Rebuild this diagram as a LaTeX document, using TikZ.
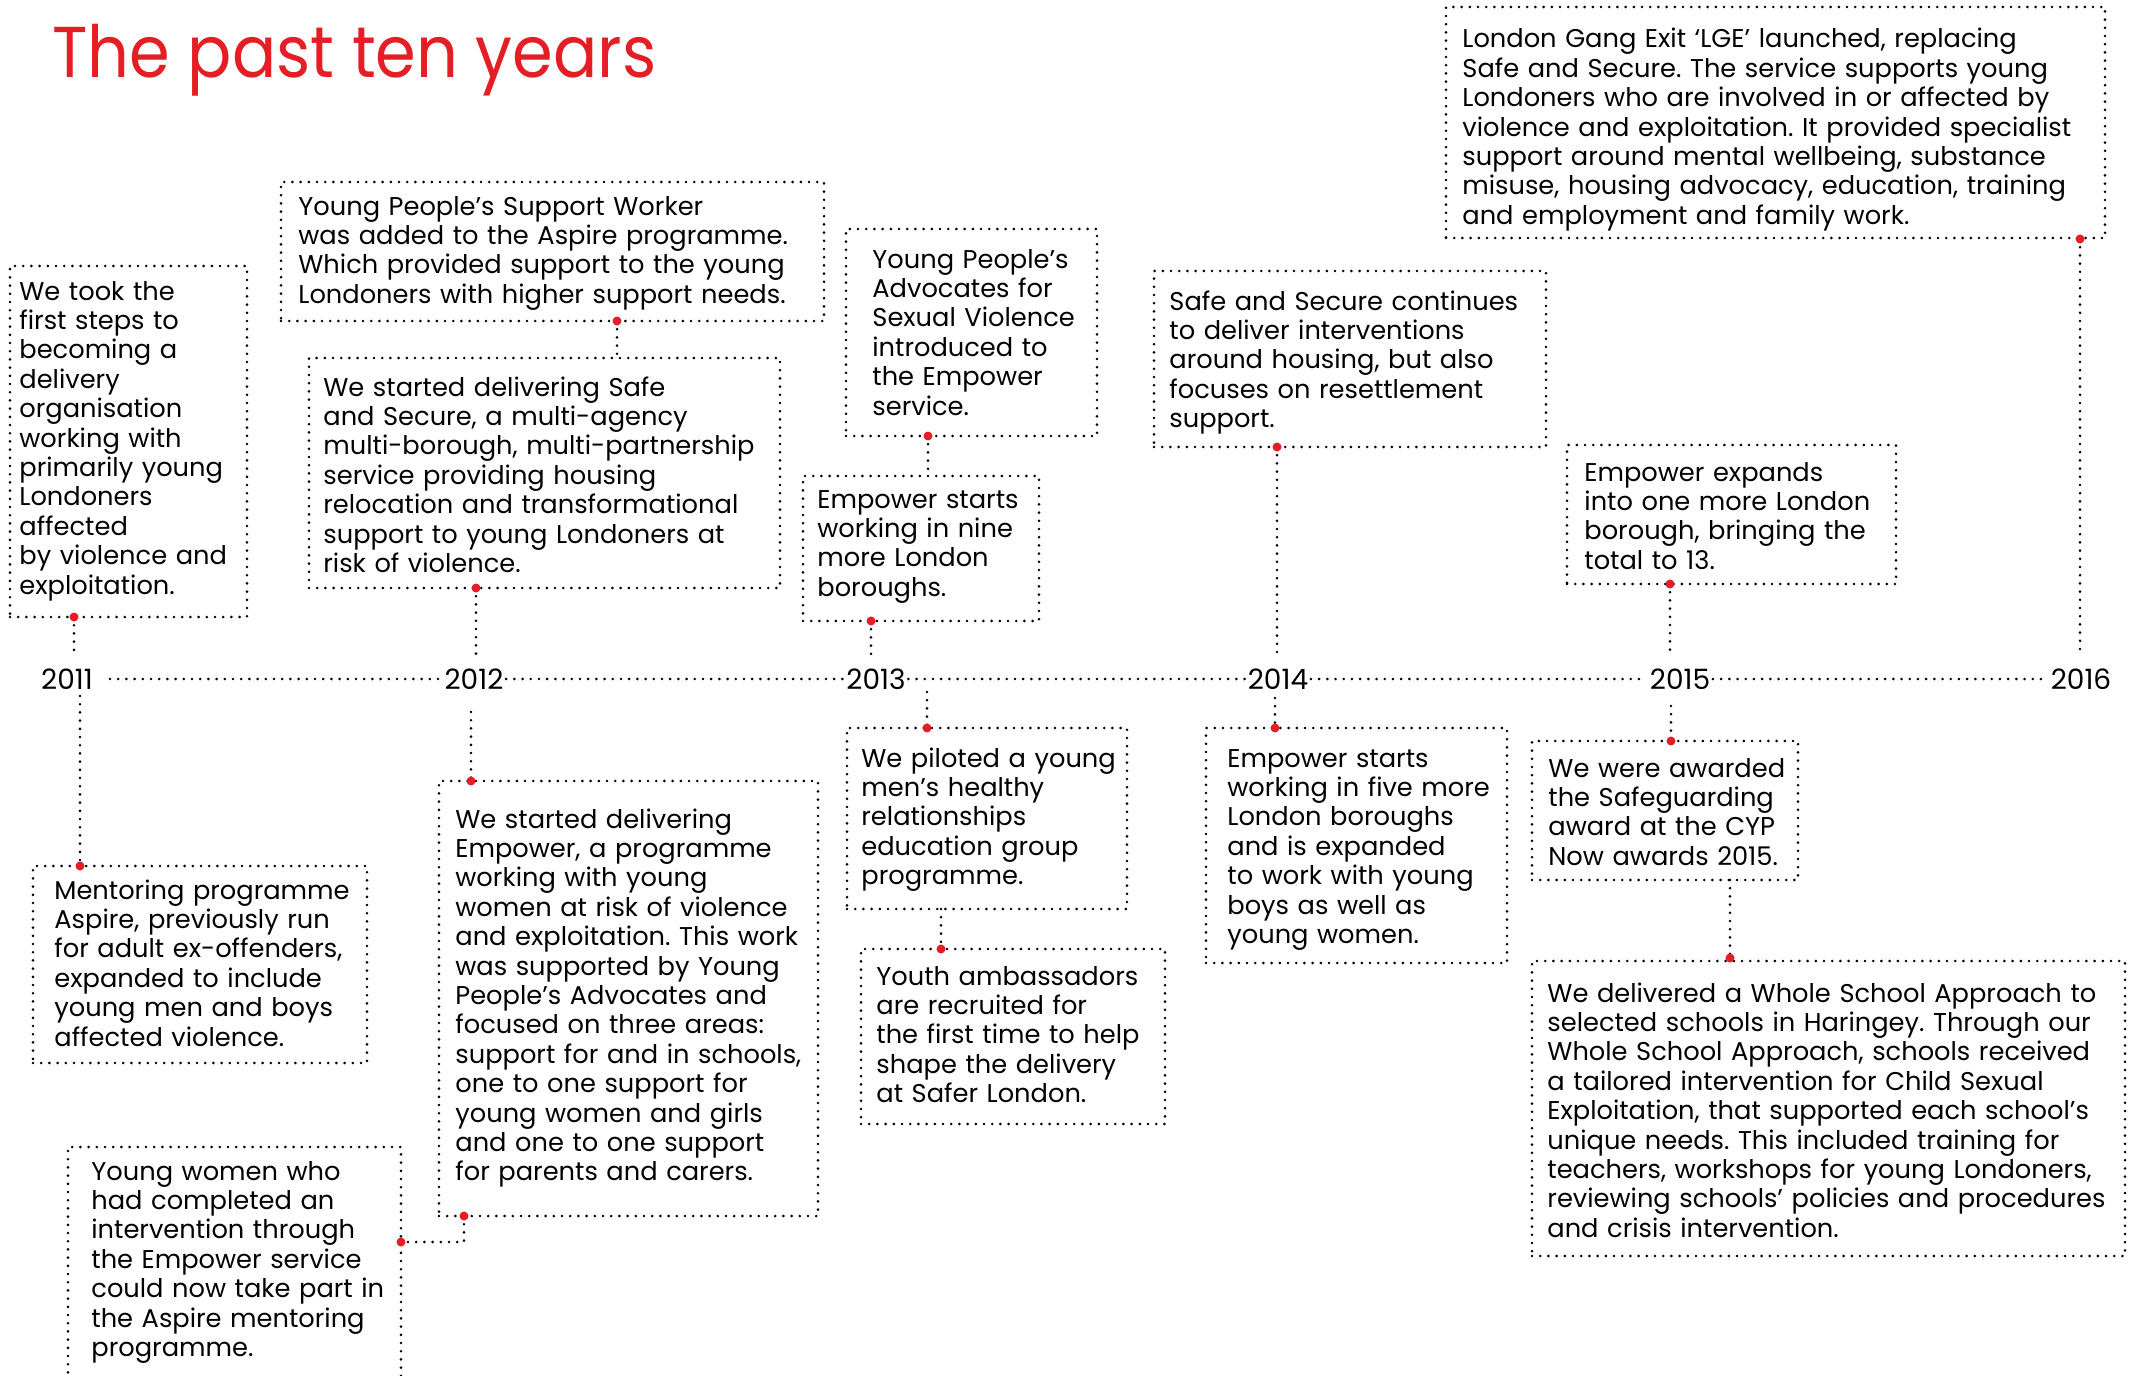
\documentclass[tikz,border=0pt]{standalone}
\usepackage{fontspec}
\usepackage{graphicx}
\setmainfont{Poppins}
\usetikzlibrary{fit}
\definecolor{slred}{RGB}{228,30,36}
\frenchspacing
\begin{document}
\begin{tikzpicture}[x=0.5pt,y=-0.5pt,
  dotline/.style={line width=1.45pt, dash pattern=on 0pt off 4.1pt, line cap=round, draw=black},
  box/.style={draw, dotline, inner sep=0pt, rectangle},
  txt/.style={anchor=base west, inner sep=0pt, text width=440pt, align=left, font=\fontsize{12.85}{14.7}\selectfont},
  reddot/.style={circle, fill=slred, draw=none, inner sep=0pt, minimum size=4.5pt},
  year/.style={inner sep=1.2pt, font=\fontsize{14}{16}\selectfont}]
\clip (0,0) rectangle (2139,1375);
\useasboundingbox (0,0) rectangle (2139,1375);

% title
\node[anchor=base west, inner sep=0pt, text=slred, font=\fontsize{36}{40}\selectfont] (title) at (52,78) {\scalebox{0.91}[1]{The past ten years}};

% years and axis
\node[year] (y2011) at (67,679) {2011};
\node[year] (y2012) at (474,679) {2012};
\node[year] (y2013) at (876,679) {2013};
\node[year] (y2014) at (1278,679) {2014};
\node[year] (y2015) at (1680,679) {2015};
\node[year] (y2016) at (2081,679) {2016};
\coordinate (ax0) at (110,679);
\draw[dotline] (ax0) -- (y2012);
\draw[dotline] (y2012) -- (y2013);
\draw[dotline] (y2013) -- (y2014);
\draw[dotline] (y2014) -- (y2015);
\draw[dotline] (y2015) -- (y2016);

% boxes
\node[box, fit={(10,266) (247,617)}] (b2011u) {};
\node[box, fit={(281,182) (824,321)}] (bYPSW) {};
\node[box, fit={(309,358) (780,588)}] (b2012u) {};
\node[box, fit={(846,229) (1097,436)}] (bYPASV) {};
\node[box, fit={(803,476) (1039,621)}] (b2013u) {};
\node[box, fit={(1154,271) (1546,447)}] (b2014u) {};
\node[box, fit={(1567,445) (1896,584)}] (bExp) {};
\node[box, fit={(1446,7) (2105,238)}] (bLGE) {};
\node[box, fit={(33,866) (367,1063)}] (b2011l) {};
\node[box, fit={(68,1147) (401,1420)}] (bYW) {};
\node[box, fit={(439,781) (818,1216)}] (b2012l) {};
\node[box, fit={(847,728) (1127,909)}] (b2013l) {};
\node[box, fit={(861,949) (1165,1124)}] (bYA) {};
\node[box, fit={(1206,728) (1507,963)}] (b2014l) {};
\node[box, fit={(1532,741) (1798,880)}] (b2015l) {};
\node[box, fit={(1532,961) (2125,1256)}] (bWS) {};

% texts
\node[txt] (t2011u) at (19,300) {We took the\\first steps to\\becoming a\\delivery\\organisation\\working with\\primarily young\\Londoners\\affected\\by violence and\\exploitation.};
\node[txt] (tYPSW) at (298,215) {Young People’s Support Worker\\was added to the Aspire programme.\\Which provided support to the young\\Londoners with higher support needs.};
\node[txt] (t2012u) at (323,396) {We started delivering Safe\\and Secure, a multi-agency\\multi-borough, multi-partnership\\service providing housing\\relocation and transformational\\support to young Londoners at\\risk of violence.};
\node[txt] (tYPASV) at (872,268) {Young People’s\\Advocates for\\Sexual Violence\\introduced to\\the Empower\\service.};
\node[txt] (t2013u) at (817,508) {Empower starts\\working in nine\\more London\\boroughs.};
\node[txt] (t2014u) at (1169,310) {Safe and Secure continues\\to deliver interventions\\around housing, but also\\focuses on resettlement\\support.};
\node[txt] (tExp) at (1584,481) {Empower expands\\into one more London\\borough, bringing the\\total to 13.};
\node[txt] (tLGE) at (1462,48) {London Gang Exit ‘LGE’ launched, replacing\\Safe and Secure. The service supports young\\Londoners who are involved in or affected by\\violence and exploitation. It provided specialist\\support around mental wellbeing, substance\\misuse, housing advocacy, education, training\\and employment and family work.};
\node[txt] (t2011l) at (54,899) {Mentoring programme\\Aspire, previously run\\for adult ex-offenders,\\expanded to include\\young men and boys\\affected violence.};
\node[txt] (tYW) at (91,1180) {Young women who\\had completed an\\intervention through\\the Empower service\\could now take part in\\the Aspire mentoring\\programme.};
\node[txt] (t2012l) at (455,828) {We started delivering\\Empower, a programme\\working with young\\women at risk of violence\\and exploitation. This work\\was supported by Young\\People’s Advocates and\\focused on three areas:\\support for and in schools,\\one to one support for\\young women and girls\\and one to one support\\for parents and carers.};
\node[txt] (t2013l) at (861,767) {We piloted a young\\men’s healthy\\relationships\\education group\\programme.};
\node[txt] (tYA) at (876,985) {Youth ambassadors\\are recruited for\\the first time to help\\shape the delivery\\at Safer London.};
\node[txt] (t2014l) at (1227,767) {Empower starts\\working in five more\\London boroughs\\and is expanded\\to work with young\\boys as well as\\young women.};
\node[txt] (t2015l) at (1548,777) {We were awarded\\the Safeguarding\\award at the CYP\\Now awards 2015.};
\node[txt] (tWS) at (1547,1002) {We delivered a Whole School Approach to\\selected schools in Haringey. Through our\\Whole School Approach, schools received\\a tailored intervention for Child Sexual\\Exploitation, that supported each school’s\\unique needs. This included training for\\teachers, workshops for young Londoners,\\reviewing schools’ policies and procedures\\and crisis intervention.};

% dot positions
\coordinate (d2011u) at (74,617);
\coordinate (dYPSW) at (617,321);
\coordinate (d2012u) at (476,588);
\coordinate (dYPASV) at (928,436);
\coordinate (d2013u) at (871,621);
\coordinate (d2014u) at (1277,447);
\coordinate (dExp) at (1670,584);
\coordinate (dLGE) at (2080,239);
\coordinate (d2011l) at (80,866);
\coordinate (d2012l) at (471,781);
\coordinate (d2012b) at (464,1216);
\coordinate (dYW) at (401,1242);
\coordinate (d2013l) at (927,728);
\coordinate (dYA) at (941,949);
\coordinate (d2014l) at (1275,728);
\coordinate (d2015l) at (1671,741);
\coordinate (dWS) at (1730,958);

% connector free ends
\coordinate (e2011u) at (74,656);
\coordinate (eYPSW) at (617,358);
\coordinate (e2012u) at (476,656);
\coordinate (eYPASV) at (928,476);
\coordinate (e2013u) at (871,657);
\coordinate (e2014u) at (1277,655);
\coordinate (eExp) at (1670,656);
\coordinate (eLGE) at (2080,656);
\coordinate (e2011l) at (80,696);
\coordinate (e2012l) at (471,712);
\coordinate (eYWc) at (464,1242);
\coordinate (e2013l) at (927,692);
\coordinate (eYA) at (941,909);
\coordinate (e2014l) at (1275,698);
\coordinate (e2015l) at (1671,706);
\coordinate (eWS) at (1730,880);

% connectors
\draw[dotline] (d2011u) -- (e2011u);
\draw[dotline] (dYPSW) -- (eYPSW);
\draw[dotline] (d2012u) -- (e2012u);
\draw[dotline] (dYPASV) -- (eYPASV);
\draw[dotline] (d2013u) -- (e2013u);
\draw[dotline] (d2014u) -- (e2014u);
\draw[dotline] (dExp) -- (eExp);
\draw[dotline] (dLGE) -- (eLGE);
\draw[dotline] (e2011l) -- (d2011l);
\draw[dotline] (e2012l) -- (d2012l);
\draw[dotline] (d2012b) -- (eYWc) -- (dYW);
\draw[dotline] (e2013l) -- (d2013l);
\draw[dotline] (eYA) -- (dYA);
\draw[dotline] (e2014l) -- (d2014l);
\draw[dotline] (e2015l) -- (d2015l);
\draw[dotline] (eWS) -- (dWS);

% red dots
\foreach \d in {d2011u,dYPSW,d2012u,dYPASV,d2013u,d2014u,dExp,dLGE,d2011l,d2012l,d2012b,dYW,d2013l,dYA,d2014l,d2015l,dWS}
  \node[reddot] (r\d) at (\d) {};
\end{tikzpicture}
\end{document}
